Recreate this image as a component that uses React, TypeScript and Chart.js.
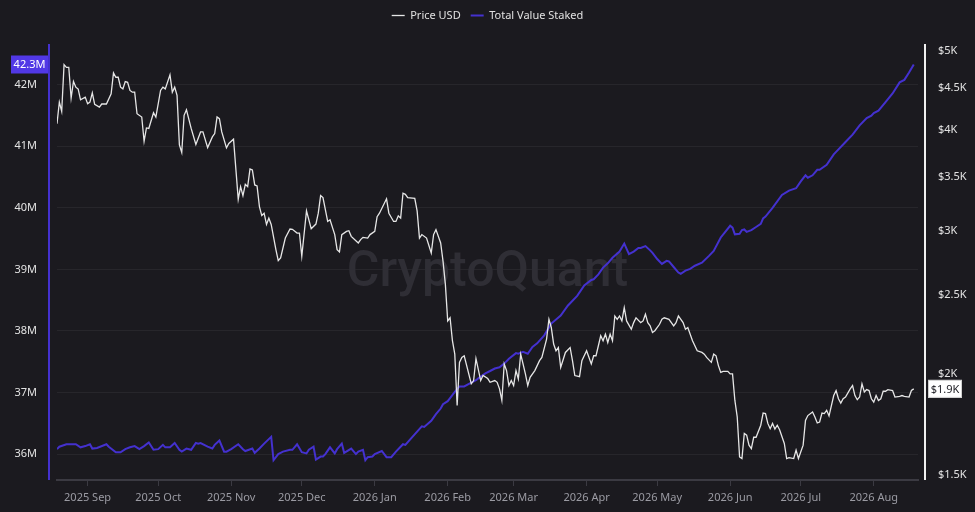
import React, { useEffect, useRef } from 'react';
import { Chart, registerables } from 'chart.js';

Chart.register(...registerables);

// Days since 2025-08-19 (day 0)
const monthDays = [13, 43, 74, 104, 135, 166, 194, 225, 255, 286, 316, 347];
const monthLabels = ['2025 Sep', '2025 Oct', '2025 Nov', '2025 Dec', '2026 Jan', '2026 Feb', '2026 Mar', '2026 Apr', '2026 May', '2026 Jun', '2026 Jul', '2026 Aug'];

const stakedTicks = [36, 37, 38, 39, 40, 41, 42];
const priceTicks = [1500, 2000, 2500, 3000, 3500, 4000, 4500, 5000];

const priceDays = [0,1,2,3,4,5,6,7,8,9,10,12,13,14,15,16,18,19,21,23,24,25,26,27,28,29,30,31,32,33,34,36,37,38,39,41,42,44,45,46,48,49,50,51,52,53,54,55,57,59,61,62,64,66,67,68,69,70,72,73,75,77,78,79,80,81,82,83,84,85,86,87,88,89,90,91,93,94,95,97,99,100,102,103,104,106,108,110,111,112,113,115,116,118,119,120,121,123,124,125,128,129,130,132,133,135,136,137,140,141,143,144,145,146,147,148,149,152,153,154,155,157,159,160,161,163,164,165,166,167,168,169,170,171,172,173,176,177,178,180,181,183,184,186,187,188,189,190,191,192,193,194,195,196,197,198,199,200,201,203,205,206,208,209,210,211,212,213,214,216,218,219,220,222,223,225,227,228,229,231,232,233,234,235,236,237,238,239,240,241,242,244,245,246,248,249,250,251,252,253,254,256,257,258,260,262,263,264,266,267,268,270,272,274,275,276,278,279,280,281,282,283,285,286,287,288,289,290,291,292,293,294,295,296,297,299,300,301,302,303,304,305,306,307,309,310,311,313,314,315,317,318,319,321,322,323,324,325,326,327,328,330,331,332,333,334,335,337,338,339,340,341,342,343,344,345,346,347,348,349,350,351,352,353,355,356,358,359,360,362,363,364];
const priceValues = [4070,4328,4215,4814,4777,4777,4377,4588,4515,4490,4356,4389,4307,4328,4443,4299,4267,4304,4304,4430,4701,4644,4644,4515,4493,4588,4578,4473,4451,4451,4187,4148,3872,4021,4016,4199,4148,4473,4515,4493,4675,4451,4515,4410,3831,3750,4168,4234,4016,3836,3976,3976,3803,3920,3957,4148,4128,3976,3800,3847,3895,3284,3403,3318,3426,3403,3578,3568,3420,3410,3216,3135,3156,3057,3112,3057,2846,2759,2780,2941,3017,3015,2983,2983,2793,3177,3020,3060,3156,3318,3299,3083,3098,2970,2846,2827,2970,2997,3003,2955,2900,2928,2947,2941,2970,2997,3125,3156,3288,3156,3083,3083,3133,3112,3340,3330,3299,3292,3177,2941,2970,2941,2819,2970,3012,2900,2754,2578,2324,2345,2197,2115,1828,2066,2095,2105,1944,1962,2088,1962,1990,1973,1952,1962,1952,1916,1854,2057,2018,1934,1962,1934,2018,1971,2115,2057,1999,1934,1980,2018,2076,2095,2207,2335,2281,2176,2135,2155,2037,2125,2155,2076,1990,1984,2076,2135,2057,2105,2105,2228,2197,2239,2186,2239,2197,2357,2335,2357,2324,2413,2324,2270,2313,2345,2313,2324,2369,2313,2292,2249,2260,2302,2335,2345,2335,2292,2313,2357,2313,2270,2281,2197,2135,2125,2115,2095,2066,2115,2105,2047,2008,2014,2014,1999,1999,1854,1769,1579,1572,1688,1680,1633,1617,1670,1670,1728,1789,1786,1737,1711,1737,1709,1728,1706,1641,1572,1576,1572,1610,1572,1633,1752,1776,1794,1769,1739,1744,1789,1786,1803,1774,1880,1907,1863,1840,1863,1872,1916,1934,1880,1858,1872,1944,1899,1912,1907,1863,1845,1880,1854,1863,1903,1903,1912,1907,1872,1876,1880,1876,1872,1907,1916];

const stakedDays = [0,1,4,8,10,12,14,15,17,21,22,25,27,29,31,33,35,37,39,41,43,45,46,48,50,52,53,55,57,59,60,61,64,66,67,69,71,72,74,77,79,80,83,84,86,88,91,92,94,96,99,100,102,104,106,107,109,110,112,113,114,116,118,119,121,122,125,127,128,130,131,132,134,135,138,140,142,144,147,148,151,155,156,159,161,163,164,166,167,169,171,173,175,178,179,182,184,186,188,190,192,195,196,198,200,202,204,207,210,214,217,221,224,227,228,230,232,234,236,239,241,243,245,247,248,250,252,253,255,257,259,260,262,264,265,267,269,271,274,277,279,282,286,287,288,290,291,292,293,295,297,299,300,301,304,308,311,314,316,318,319,321,323,324,327,330,331,335,338,341,344,346,347,349,352,355,358,360,362,364];
const stakedValues = [36.08,36.12,36.16,36.16,36.11,36.13,36.16,36.09,36.10,36.16,36.12,36.03,36.03,36.08,36.11,36.13,36.08,36.13,36.19,36.07,36.08,36.15,36.11,36.11,36.18,36.07,36.04,36.09,36.07,36.18,36.17,36.18,36.12,36.09,36.15,36.22,36.04,36.04,36.08,36.16,36.08,36.05,36.09,36.02,36.09,36.17,36.28,35.90,36.00,36.04,36.07,36.07,36.16,36.03,36.01,36.07,36.12,35.91,35.96,35.96,36.00,36.11,36.01,36.08,36.17,36.02,36.09,36.00,36.04,36.07,35.90,35.95,35.96,36.00,36.05,35.95,35.95,36.04,36.16,36.15,36.28,36.45,36.44,36.54,36.65,36.74,36.81,36.86,36.91,37.01,37.10,37.10,37.14,37.20,37.23,37.31,37.35,37.39,37.41,37.47,37.55,37.64,37.63,37.66,37.63,37.74,37.80,37.93,38.12,38.25,38.41,38.57,38.74,38.83,38.84,38.92,39.03,39.10,39.19,39.29,39.42,39.25,39.29,39.35,39.35,39.38,39.31,39.27,39.17,39.09,39.14,39.13,39.04,38.95,38.93,38.98,39.01,39.06,39.11,39.22,39.30,39.52,39.71,39.68,39.57,39.58,39.64,39.65,39.61,39.64,39.69,39.74,39.83,39.86,40.00,40.21,40.28,40.32,40.43,40.53,40.49,40.53,40.62,40.62,40.70,40.87,40.91,41.07,41.19,41.34,41.46,41.50,41.54,41.58,41.72,41.86,42.04,42.08,42.20,42.33];

const BG = '#1b1a1f';
const PURPLE = '#4431cf';
const PRICE_COLOR = '#e6e6e6';
const FONT = 'Noto Sans';

export default function App() {
  const ref = useRef<HTMLCanvasElement>(null);

  useEffect(() => {
    const canvas = ref.current;
    if (!canvas) return;

    const legendSpace = {
      id: 'legendSpace',
      beforeInit(chart: any) {
        const legend = chart.legend;
        if (!legend) return;
        const origFit = legend.fit;
        legend.fit = function fit() {
          origFit.bind(legend)();
          this.height += 13;
        };
      },
    };

    const decor = {
      id: 'decor',
      beforeDraw(chart: any) {
        const { ctx, width, height } = chart;
        ctx.save();
        ctx.fillStyle = BG;
        ctx.fillRect(0, 0, width, height);
        ctx.restore();
      },
      beforeDatasetsDraw(chart: any) {
        const { ctx, chartArea } = chart;
        ctx.save();
        ctx.font = `500 50px Roboto`;
        ctx.fillStyle = '#2f2e35';
        ctx.textAlign = 'center';
        ctx.textBaseline = 'middle';
        ctx.fillText('CryptoQuant', (chartArea.left + chartArea.right) / 2, (chartArea.top + chartArea.bottom) / 2 + 11);
        ctx.restore();
      },
      afterDraw(chart: any) {
        const { ctx, chartArea } = chart;
        const yL = chart.scales.yL;
        const yR = chart.scales.yR;
        ctx.save();
        // axis lines
        ctx.lineWidth = 2;
        ctx.strokeStyle = PURPLE;
        ctx.beginPath();
        ctx.moveTo(chartArea.left - 8, chartArea.top);
        ctx.lineTo(chartArea.left - 8, chartArea.bottom);
        ctx.stroke();
        ctx.strokeStyle = '#f0f0f0';
        ctx.beginPath();
        ctx.moveTo(chartArea.right + 7, chartArea.top);
        ctx.lineTo(chartArea.right + 7, chartArea.bottom);
        ctx.stroke();

        // last-value badges
        ctx.font = `11px "${FONT}"`;
        ctx.textBaseline = 'middle';
        ctx.textAlign = 'center';
        const lastS = stakedValues[stakedValues.length - 1];
        const ys = yL.getPixelForValue(lastS);
        ctx.fillStyle = '#5138e6';
        ctx.fillRect(11, ys - 9, 37, 18);
        ctx.fillStyle = '#ffffff';
        ctx.fillText(lastS.toFixed(1) + 'M', 29.5, ys + 0.5);

        const lastP = priceValues[priceValues.length - 1];
        const yp = yR.getPixelForValue(lastP);
        const bx = chartArea.right + 10;
        ctx.fillStyle = '#ffffff';
        ctx.fillRect(bx, yp - 9, 34, 18);
        ctx.strokeStyle = '#cfcfcf';
        ctx.lineWidth = 1;
        ctx.strokeRect(bx + 0.5, yp - 8.5, 33, 17);
        ctx.fillStyle = '#222228';
        ctx.fillText('$' + (lastP / 1000).toFixed(1) + 'K', bx + 17, yp + 0.5);
        ctx.restore();
      },
    };

    const chart = new Chart(canvas, {
      type: 'line',
      data: {
        datasets: [
          {
            label: 'Price USD',
            data: priceDays.map((d, i) => ({ x: d, y: priceValues[i] })),
            borderColor: PRICE_COLOR,
            backgroundColor: PRICE_COLOR,
            borderWidth: 1.3,
            pointRadius: 0,
            tension: 0,
            yAxisID: 'yR',
          },
          {
            label: 'Total Value Staked',
            data: stakedDays.map((d, i) => ({ x: d, y: stakedValues[i] })),
            borderColor: PURPLE,
            backgroundColor: PURPLE,
            borderWidth: 2,
            pointRadius: 0,
            tension: 0,
            yAxisID: 'yL',
          },
        ],
      },
      options: {
        animation: false,
        responsive: true,
        maintainAspectRatio: false,
        layout: { padding: { top: 0, left: 0, right: 0, bottom: 0 } },
        plugins: {
          tooltip: { enabled: false },
          legend: {
            display: true,
            position: 'top',
            labels: {
              usePointStyle: true,
              pointStyle: 'line',
              pointStyleWidth: 13,
              boxHeight: 11,
              color: '#e0e0e0',
              font: { size: 11, family: FONT },
              padding: 10,
            },
          },
        },
        scales: {
          x: {
            type: 'linear',
            min: 0,
            max: 365.8,
            afterBuildTicks: (s: any) => {
              s.ticks = monthDays.map((v) => ({ value: v }));
            },
            afterFit: (s: any) => {
              s.height = 32;
            },
            ticks: {
              autoSkip: false,
              maxRotation: 0,
              padding: 5,
              color: '#9b9ba3',
              font: { size: 11, family: FONT },
              callback: (_v: any, i: number) => monthLabels[i],
            },
            grid: { drawOnChartArea: false, drawTicks: true, tickLength: 6, color: '#3b3a42', lineWidth: 1 },
            border: { color: '#3b3a42', width: 2 },
          },
          yL: {
            type: 'linear',
            position: 'left',
            min: 35.579,
            max: 42.663,
            afterBuildTicks: (s: any) => {
              s.ticks = stakedTicks.map((v) => ({ value: v }));
            },
            afterFit: (s: any) => {
              s.width = 57;
            },
            ticks: {
              padding: 20,
              color: '#e2e2e2',
              font: { size: 11, family: FONT },
              callback: (v: any) => v + 'M',
            },
            grid: { color: 'rgba(255,255,255,0.055)', drawTicks: false },
            border: { display: false },
          },
          yR: {
            type: 'logarithmic',
            position: 'right',
            min: 1479,
            max: 5104,
            afterBuildTicks: (s: any) => {
              s.ticks = priceTicks.map((v) => ({ value: v }));
            },
            afterFit: (s: any) => {
              s.width = 57;
            },
            ticks: {
              padding: 20,
              color: '#e2e2e2',
              font: { size: 11, family: FONT },
              callback: (v: any) => '$' + v / 1000 + 'K',
            },
            grid: { drawOnChartArea: false, drawTicks: false },
            border: { display: false },
          },
        },
      },
      plugins: [legendSpace, decor],
    } as any);

    return () => chart.destroy();
  }, []);

  return (
    <div style={{ position: 'fixed', left: 0, top: 0, width: 975, height: 512, background: BG }}>
      <canvas ref={ref} />
    </div>
  );
}
